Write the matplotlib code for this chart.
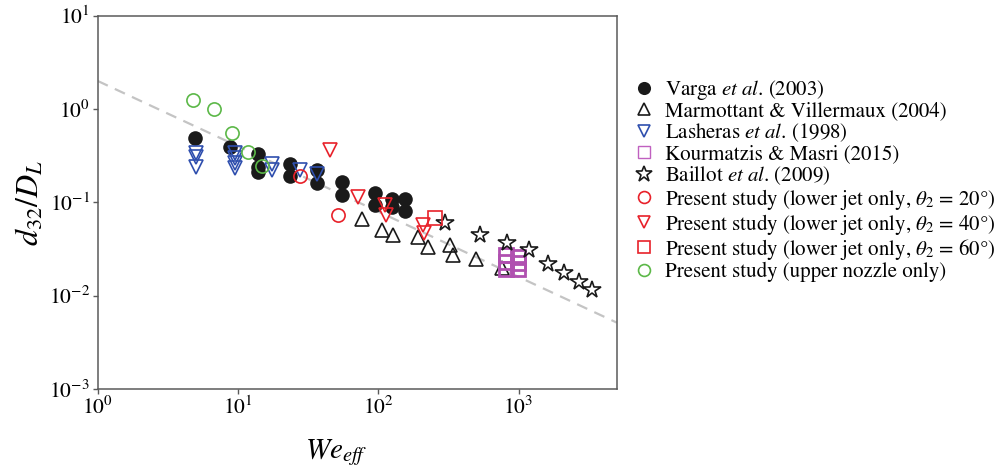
import matplotlib
matplotlib.use("Agg")
import matplotlib.pyplot as plt
from matplotlib.lines import Line2D
import numpy as np

plt.rcParams['font.family'] = ['STIXGeneral', 'DejaVu Serif']
plt.rcParams['mathtext.fontset'] = 'stix'

# ---- data ----
varga_x = [4.94, 8.77, 13.9, 13.9, 13.9, 23.5, 23.5, 36.4, 36.4, 54.8, 54.8,
           95, 95, 125, 125, 155, 155]
varga_y = [0.49, 0.39, 0.33, 0.24, 0.21, 0.255, 0.19, 0.22, 0.16, 0.165, 0.12,
           0.125, 0.094, 0.110, 0.090, 0.108, 0.080]

marm_x = [76, 106, 127, 193, 227, 324, 343, 497, 758]
marm_y = [0.067, 0.0505, 0.0447, 0.0428, 0.0334, 0.0348, 0.0272, 0.0247, 0.0196]

lash_x = [5.0, 5.0, 5.0, 9.5, 9.5, 9.5, 9.5, 17.4, 17.4, 27.5, 36.5]
lash_y = [0.335, 0.31, 0.237, 0.335, 0.30, 0.262, 0.233, 0.26, 0.225, 0.22, 0.20]

kour_x = [813, 813, 813, 995, 995, 995]
kour_y = [0.0272, 0.0229, 0.0193, 0.0260, 0.0222, 0.0193]

bail_x = [299, 531, 822, 1192, 1629, 2105, 2711, 3318]
bail_y = [0.0596, 0.0447, 0.0363, 0.0308, 0.0218, 0.0173, 0.0141, 0.0115]

p20_x = [27.7, 51.9]
p20_y = [0.191, 0.073]

p40_x = [45.2, 72, 111.6, 113, 209, 212]
p40_y = [0.364, 0.115, 0.0935, 0.073, 0.057, 0.0466]

p60_x = [253.7]
p60_y = [0.0684]

upper_x = [4.8, 6.78, 9.1, 11.7, 14.8]
upper_y = [1.25, 1.0, 0.56, 0.346, 0.245]

fit_coef = 2.0
fit_exp = -0.7
x_limits = [1, 5000]
y_limits = [1e-3, 10]

labels = [
    r"Varga $\mathit{et\ al}$. (2003)",
    r"Marmottant & Villermaux (2004)",
    r"Lasheras $\mathit{et\ al}$. (1998)",
    r"Kourmatzis & Masri (2015)",
    r"Baillot $\mathit{et\ al}$. (2009)",
    r"Present study (lower jet only, $\theta_2$ = 20°)",
    r"Present study (lower jet only, $\theta_2$ = 40°)",
    r"Present study (lower jet only, $\theta_2$ = 60°)",
    r"Present study (upper nozzle only)",
]

fig = plt.figure(figsize=(10.02, 4.72), dpi=100)
ax = fig.add_axes([0.0975, 0.1758, 0.518, 0.7909])

fx = np.array(x_limits, dtype=float)
ax.plot(fx, fit_coef * fx ** fit_exp, color='#c4c4c4', lw=1.6,
        dashes=(5, 3.5), zorder=1)

ms_open = 9.5
mew = 1.2
h = []
h.append(ax.plot(varga_x, varga_y, 'o', color='#1a1a1a', ms=10.5, mew=0,
                 zorder=2, label=labels[0])[0])
h.append(ax.plot(marm_x, marm_y, '^', mfc='none', mec='#1a1a1a', ms=ms_open,
                 mew=mew, zorder=3, label=labels[1])[0])
h.append(ax.plot(lash_x, lash_y, 'v', mfc='none', mec='#2f4fae', ms=ms_open,
                 mew=mew, zorder=3, label=labels[2])[0])
ax.plot(kour_x, kour_y, 's', mfc='none', mec='#b050b0', ms=ms_open,
        mew=2.0, zorder=3)
h.append(Line2D([], [], ls='none', marker='s', mfc='none', mec='#c060c0',
                ms=ms_open, mew=1.0, label=labels[3]))
h.append(ax.plot(bail_x, bail_y, '*', mfc='none', mec='#1a1a1a', ms=13,
                 mew=mew, zorder=3, label=labels[4])[0])
h.append(ax.plot(p20_x, p20_y, 'o', mfc='none', mec='#e8212a', ms=ms_open,
                 mew=mew, zorder=4, label=labels[5])[0])
h.append(ax.plot(p40_x, p40_y, 'v', mfc='none', mec='#e8212a', ms=ms_open,
                 mew=mew, zorder=4, label=labels[6])[0])
h.append(ax.plot(p60_x, p60_y, 's', mfc='none', mec='#e8212a', ms=ms_open,
                 mew=mew, zorder=4, label=labels[7])[0])
h.append(ax.plot(upper_x, upper_y, 'o', mfc='none', mec='#5cb848', ms=ms_open,
                 mew=mew, zorder=4, label=labels[8])[0])

ax.set_xscale('log')
ax.set_yscale('log')
ax.set_xlim(*x_limits)
ax.set_ylim(*y_limits)
ax.minorticks_off()
ax.set_xticks([1, 10, 100, 1000])
ax.set_yticks([1e-3, 1e-2, 1e-1, 1, 10])

for s in ax.spines.values():
    s.set_color('#5a5a5a')
    s.set_linewidth(1.1)
ax.tick_params(which='major', direction='out', length=3.5, width=1.0,
               color='#5a5a5a', labelsize=15.5, pad=2)

ax.set_xlabel(r"$We_{eff}$", fontsize=21)
ax.xaxis.set_label_coords(0.46, -0.13)
ax.set_ylabel(r"$d_{32}/D_L$", fontsize=23, labelpad=2)

leg = fig.legend(handles=h, loc='upper left', bbox_to_anchor=(0.632, 0.835),
                 frameon=False, fontsize=15, handletextpad=0.5,
                 labelspacing=0.0, handlelength=1.0, markerscale=0.9,
                 borderaxespad=0, borderpad=0)

fig.savefig('out.png', dpi=100)
